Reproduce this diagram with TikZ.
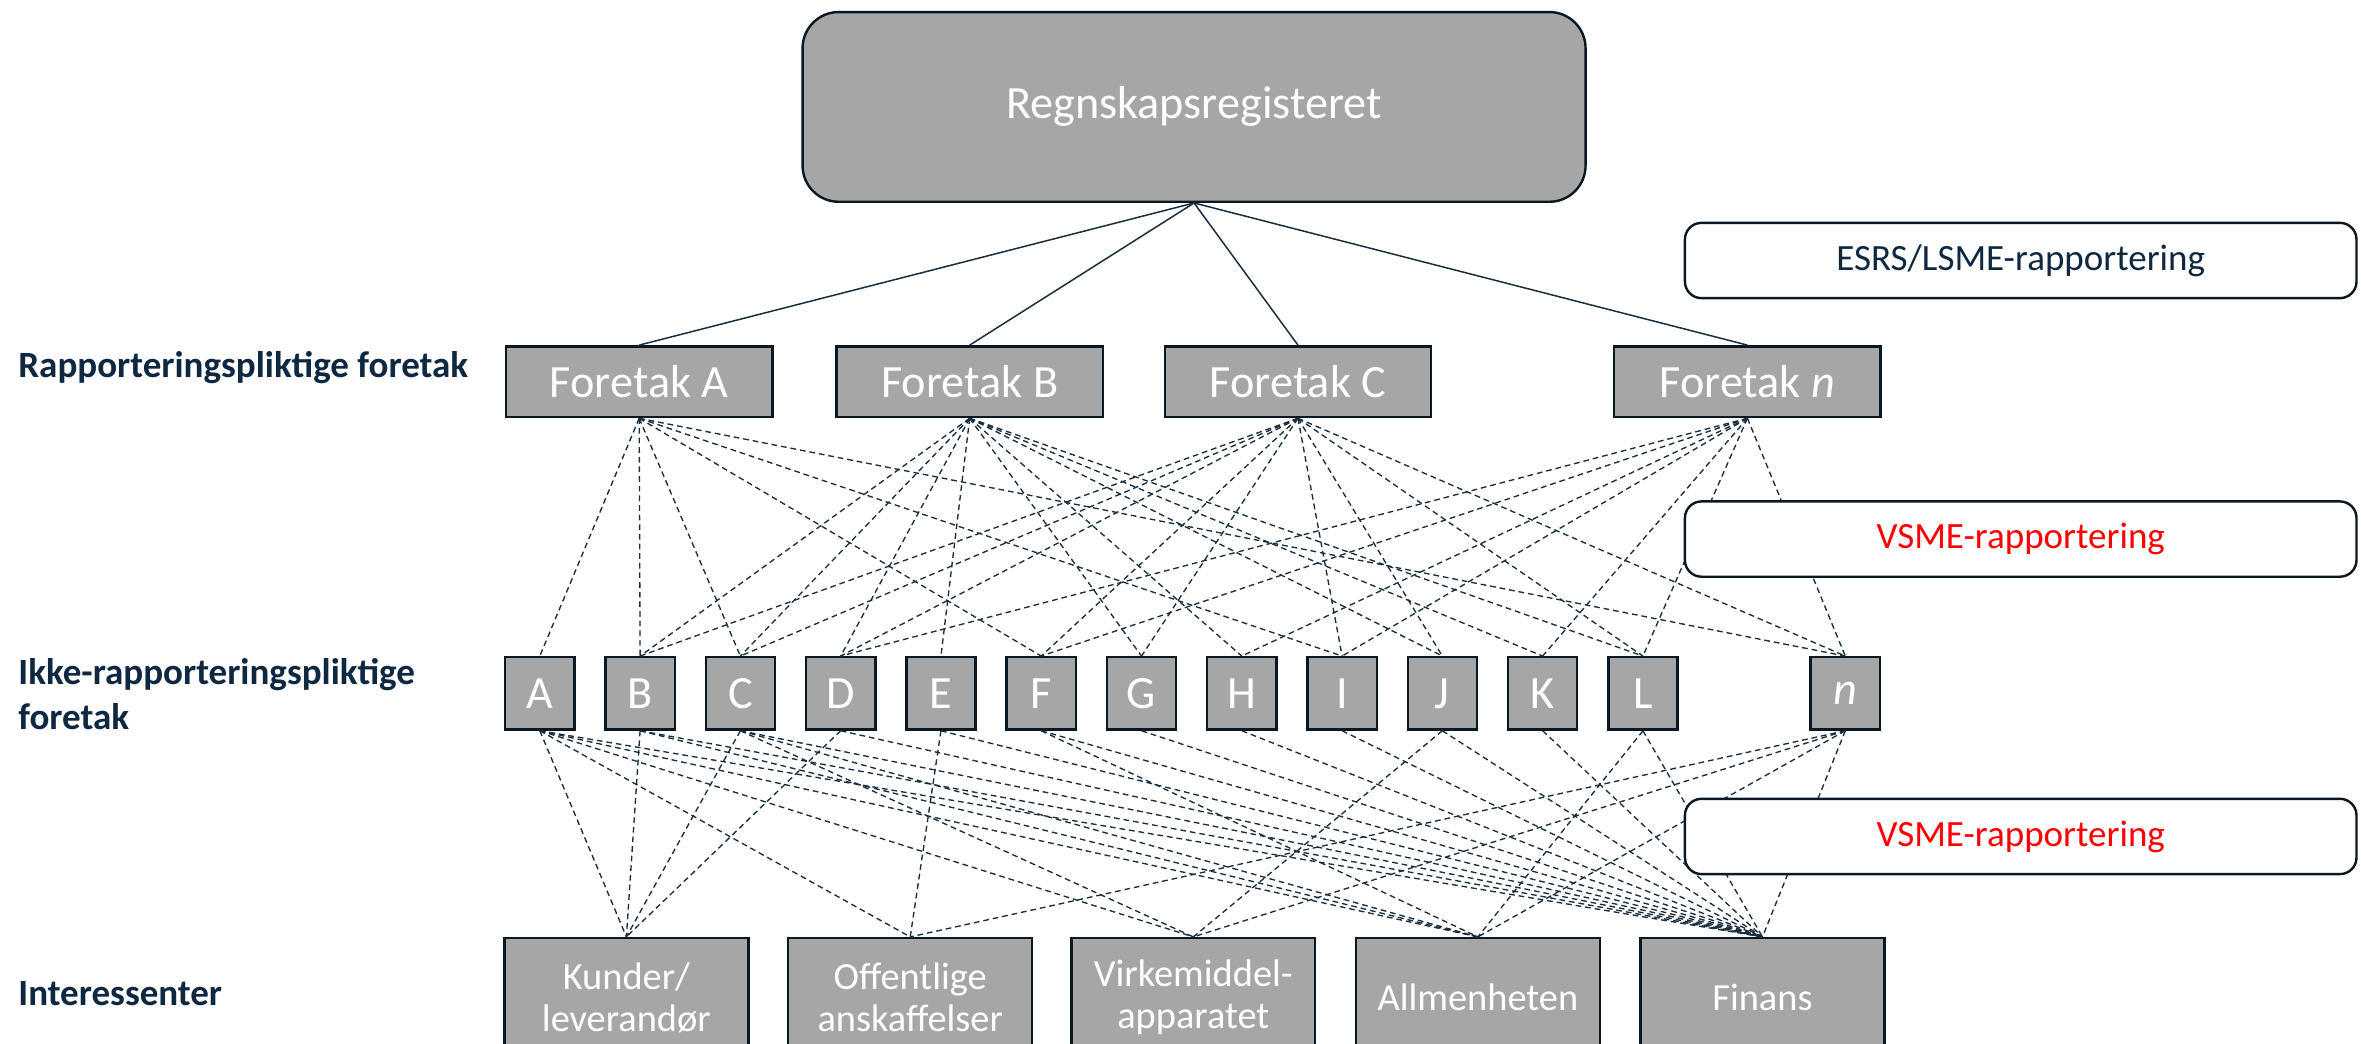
\documentclass[tikz,border=0pt]{standalone}
\usepackage{fontspec}
\setmainfont{Carlito}
\definecolor{boxgray}{HTML}{A6A6A6}
\definecolor{edgec}{HTML}{0B1722}
\definecolor{navy}{HTML}{0E2841}
\definecolor{linec}{HTML}{1B2E40}
\definecolor{vred}{HTML}{FF0000}
\begin{document}
\begin{tikzpicture}[x=1pt,y=-1pt,
  reg/.style={draw=edgec, line width=1.6pt, fill=boxgray, rounded corners=24pt, minimum width=520pt, minimum height=126pt, inner sep=0pt, text=white, font=\fontsize{30.7pt}{36pt}\selectfont},
  fbox/.style={draw=edgec, line width=1.6pt, fill=boxgray, minimum width=177pt, minimum height=47pt, inner sep=0pt, text=white, font=\fontsize{30.7pt}{36pt}\selectfont},
  lbox/.style={fbox, minimum width=46pt, minimum height=48pt},
  sbox/.style={draw=edgec, line width=1.6pt, fill=boxgray, minimum width=162pt, minimum height=79pt, inner sep=0pt, text=white, align=center, font=\fontsize{25.5pt}{28pt}\selectfont},
  rbox/.style={draw=edgec, line width=1.6pt, fill=white, rounded corners=11pt, minimum width=446pt, minimum height=50pt, inner sep=0pt, font=\fontsize{24.6pt}{30pt}\selectfont},
  lab/.style={anchor=base west, inner sep=0pt, text=navy, align=left, font=\bfseries\fontsize{24.6pt}{30pt}\selectfont},
  dl/.style={draw=linec, line width=0.9pt, dash pattern=on 3.8pt off 2.6pt},
  sl/.style={draw=linec, line width=1pt}
]
\fill[white] (0,0) rectangle (1568,693.3);
\useasboundingbox (0,0) rectangle (1568,693.3);

% top node
\node[reg] (reg) at (793,71) {Regnskapsregisteret};

% reporting companies
\node[fbox] (fA) at (424.5,253.5) {Foretak A};
\node[fbox] (fB) at (644,253.5) {Foretak B};
\node[fbox] (fC) at (862,253.5) {Foretak C};
\node[fbox] (fn) at (1160.5,253.5) {Foretak \textit{n}};

% non-reporting companies
\foreach \n [count=\k from 0] in {A,B,C,D,E,F,G,H,I,J,K,L}
  \node[lbox] (l\n) at (358.5+66.6*\k,460.5) {\n};
\node[lbox] (ln) at (1225.5,460.5) {\textit{n}};

% stakeholders
\node[sbox] (ku) at (416,662.5) {Kunder/\\leverandør};
\node[sbox] (of) at (604.5,662.5) {Offentlige\\anskaffelser};
\node[sbox] (vi) at (792.5,662.5) {Virkemiddel-\\apparatet};
\node[sbox] (al) at (981.5,662.5) {Allmenheten};
\node[sbox] (fi) at (1170.5,662.5) {Finans};

% labels
\node[lab] (lr) at (12,251) {Rapporteringspliktige foretak};
\node[lab, anchor=west] (li) at (12,461) {Ikke-rapporteringspliktige\\foretak};
\node[lab] (ls) at (12,668) {Interessenter};

% solid connectors
\foreach \t in {fA,fB,fC,fn}
  \draw[sl] (reg.south) -- (\t.north);

% dashed connectors, reporting -> non-reporting
\foreach \s/\t in {fA/lA,fA/lB,fA/lC,fA/lF,fA/lI,fA/ln,
                   fB/lB,fB/lC,fB/lD,fB/lE,fB/lG,fB/lH,fB/lJ,fB/lK,fB/lL,
                   fC/lB,fC/lC,fC/lD,fC/lF,fC/lG,fC/lI,fC/lJ,fC/lL,fC/ln,
                   fn/lD,fn/lF,fn/lH,fn/lI,fn/lK,fn/lL,fn/ln}
  \draw[dl] (\s.south) -- (\t.north);

% dashed connectors, non-reporting -> stakeholders
\foreach \s/\t in {lA/ku,lA/of,lA/vi,lA/al,lA/fi,
                   lB/ku,lB/al,lB/fi,
                   lC/ku,lC/vi,lC/al,lC/fi,
                   lD/ku,lD/fi,
                   lE/of,lE/fi,
                   lF/al,lF/fi,
                   lG/fi,lH/fi,lI/fi,
                   lJ/vi,lJ/fi,
                   lK/fi,
                   lL/al,lL/fi,
                   ln/of,ln/vi,ln/al,ln/fi}
  \draw[dl] (\s.south) -- (\t.north);

% reporting type boxes (drawn over the connectors)
\node[rbox, text=navy] (esrs) at (1342,173) {ESRS/LSME-rapportering};
\node[rbox, text=vred] (vsme1) at (1342,358) {VSME-rapportering};
\node[rbox, text=vred] (vsme2) at (1342,555.5) {VSME-rapportering};
\end{tikzpicture}
\end{document}
